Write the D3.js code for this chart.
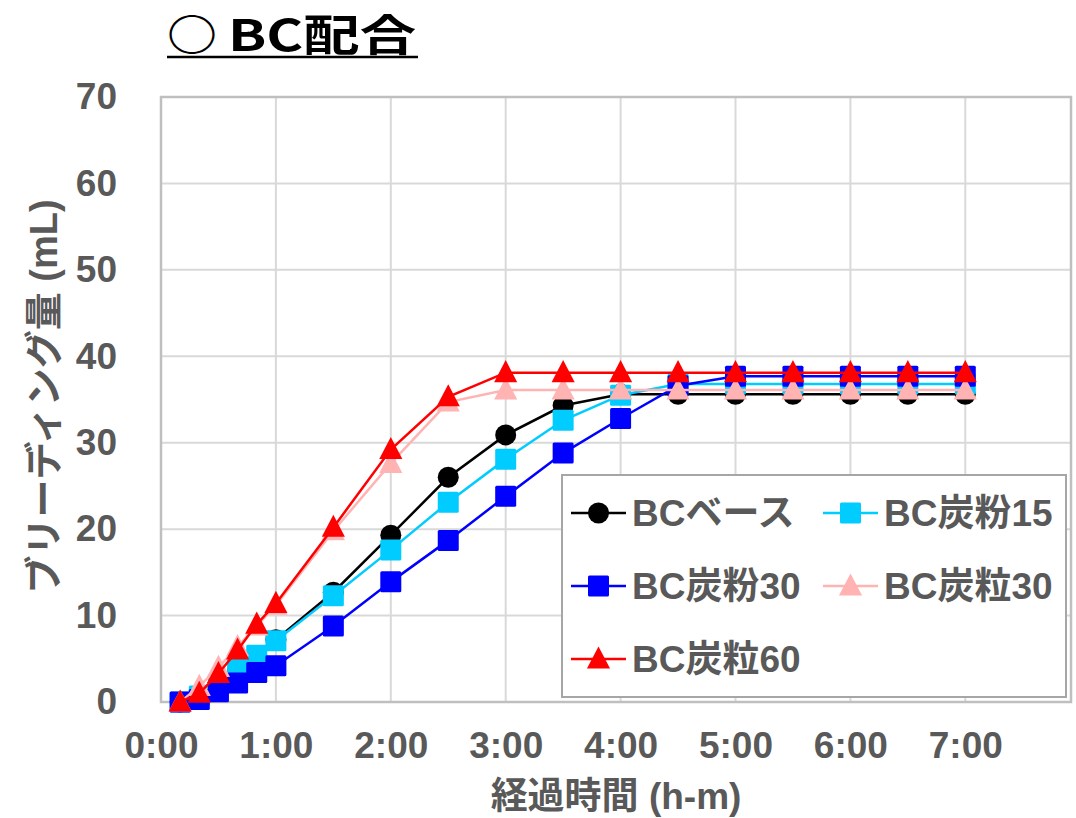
<!DOCTYPE html>
<html><head><meta charset="utf-8">
<script src="https://cdn.jsdelivr.net/npm/d3@7/dist/d3.min.js"></script>
<style>
html,body{margin:0;padding:0;background:#fff;}
svg{display:block;}
</style></head>
<body>
<svg id="chart" width="1076" height="818"></svg>
<script>
const times = ["0:10","0:20","0:30","0:40","0:50","1:00","1:30","2:00","2:30","3:00","3:30","4:00","4:30","5:00","5:30","6:00","6:30","7:00"];
const seriesNames = ["BCベース","BC炭粉15","BC炭粉30","BC炭粒30","BC炭粒60"];
const base   = [0,0.5,1.8,3.6,5.3,7.2,12.7,19.3,26.0,30.9,34.3,35.6,35.6,35.6,35.6,35.6,35.6,35.6];
const fun15  = [0,0.7,2.0,3.8,5.4,7.1,12.3,17.6,23.1,28.1,32.6,35.5,36.8,36.8,36.8,36.8,36.8,36.8];
const fun30  = [0,0.3,1.2,2.2,3.4,4.2,8.8,13.9,18.7,23.8,28.8,32.8,36.6,37.7,37.7,37.7,37.7,37.7];
const ryu30  = [0,1.8,4.0,6.4,8.8,11.2,19.8,27.6,34.7,36.1,36.1,36.1,36.1,36.1,36.1,36.1,36.1,36.1];
const ryu60  = [0,1.0,3.3,6.0,9.0,11.4,20.2,29.2,35.3,38.1,38.1,38.1,38.1,38.1,38.1,38.1,38.1,38.1];
const xTickLabels = ["0:00","1:00","2:00","3:00","4:00","5:00","6:00","7:00"];
const yTicks = [0,10,20,30,40,50,60,70];

const colors = ["#000000","#00CCFF","#0000FF","#FFB3B3","#FF0000"];
const shapes = ["circle","square","square","triangle","triangle"];
const values = [base, fun15, fun30, ryu30, ryu60];

const toMin = s => { const [h,m] = s.split(":").map(Number); return h*60+m; };

const svg = d3.select("#chart");
const L = 161, R = 1071, T = 97, B = 702;
const x = d3.scaleLinear().domain([0, 0.33*24*60]).range([L, R]);
const y = d3.scaleLinear().domain([0, 70]).range([B, T]);
const FONT = "'Liberation Sans', 'Noto Sans CJK JP', sans-serif";
const GREY = "#595959";

// gridlines
svg.append("g").selectAll("line.h").data(yTicks).join("line")
  .attr("x1", L).attr("x2", R).attr("y1", d => y(d)).attr("y2", d => y(d))
  .attr("stroke", "#D9D9D9").attr("stroke-width", 2);
svg.append("g").selectAll("line.v").data(xTickLabels).join("line")
  .attr("x1", d => x(toMin(d))).attr("x2", d => x(toMin(d))).attr("y1", T).attr("y2", B)
  .attr("stroke", "#D9D9D9").attr("stroke-width", 2);
// plot border
svg.append("rect").attr("x", L).attr("y", T).attr("width", R-L).attr("height", B-T)
  .attr("fill", "none").attr("stroke", "#BFBFBF").attr("stroke-width", 2.5);

// axes labels via d3 axes
const yAxis = svg.append("g").attr("transform", `translate(${L},0)`)
  .call(d3.axisLeft(y).tickValues(yTicks).tickSize(0).tickPadding(44));
yAxis.select(".domain").remove();
yAxis.selectAll("text").attr("font-family", FONT).attr("font-weight", "bold")
  .attr("font-size", 37).attr("fill", GREY);

const xAxis = svg.append("g").attr("transform", `translate(0,${B})`)
  .call(d3.axisBottom(x).tickValues(xTickLabels.map(toMin)).tickFormat((d,i) => xTickLabels[i]).tickSize(0).tickPadding(30));
xAxis.select(".domain").remove();
xAxis.selectAll("text").attr("font-family", FONT).attr("font-weight", "bold")
  .attr("font-size", 37).attr("fill", GREY);

// axis titles
svg.append("text").attr("x", 616).attr("y", 809).attr("text-anchor", "middle")
  .attr("font-family", FONT).attr("font-weight", "bold").attr("font-size", 37).attr("fill", GREY)
  .text("経過時間 (h-m)");
svg.append("text").attr("transform", `translate(57,${(T+B)/2 - 3}) rotate(-90)`).attr("text-anchor", "middle")
  .attr("font-family", FONT).attr("font-weight", "bold").attr("font-size", 38).attr("fill", GREY)
  .text("ブリーディング量 (mL)");

// title
svg.append("text").attr("x", 167).attr("y", 51)
  .attr("font-family", "'Noto Sans CJK JP', sans-serif").attr("font-weight", "bold").attr("font-size", 43).attr("fill", "#000")
  .attr("textLength", 50).attr("lengthAdjust", "spacingAndGlyphs")
  .text("○");
svg.append("text").attr("x", 228).attr("y", 51)
  .attr("font-family", "'Noto Sans CJK JP', sans-serif").attr("font-weight", "bold").attr("font-size", 43).attr("fill", "#000")
  .attr("textLength", 188).attr("lengthAdjust", "spacingAndGlyphs")
  .text("BC配合");
svg.append("line").attr("x1", 167).attr("x2", 418).attr("y1", 57).attr("y2", 57)
  .attr("stroke", "#000").attr("stroke-width", 2.7);

function drawMarker(g, shape, cx, cy, color, s) {
  if (shape === "circle") {
    g.append("circle").attr("cx", cx).attr("cy", cy).attr("r", s/2).attr("fill", color);
  } else if (shape === "square") {
    g.append("rect").attr("x", cx - s/2).attr("y", cy - s/2).attr("width", s).attr("height", s).attr("rx", 1.5).attr("fill", color);
  } else {
    const h = s;
    g.append("path").attr("d", `M${cx},${cy - h*0.6}L${cx + s*0.55},${cy + h*0.45}L${cx - s*0.55},${cy + h*0.45}Z`).attr("fill", color);
  }
}

// series
const line = d3.line().x(d => x(d[0])).y(d => y(d[1]));
values.forEach((vals, i) => {
  const pts = times.map((t, j) => [toMin(t), vals[j]]);
  const g = svg.append("g");
  g.append("path").attr("d", line(pts)).attr("fill", "none").attr("stroke", colors[i]).attr("stroke-width", 2.5);
  pts.forEach(p => drawMarker(g, shapes[i], x(p[0]), y(p[1]), colors[i], 21));
});

// legend
const lg = svg.append("g");
lg.append("rect").attr("x", 562).attr("y", 475).attr("width", 504).attr("height", 222)
  .attr("fill", "#fff").attr("stroke", "#A6A6A6").attr("stroke-width", 2);
const legPos = [[571,513],[823,513],[571,586],[823,586],[571,659]];
seriesNames.forEach((name, i) => {
  const [lx, ly] = legPos[i];
  lg.append("line").attr("x1", lx).attr("x2", lx + 55).attr("y1", ly).attr("y2", ly)
    .attr("stroke", colors[i]).attr("stroke-width", 2.5);
  drawMarker(lg, shapes[i], lx + 27.5, ly, colors[i], 21);
  lg.append("text").attr("x", lx + 61).attr("y", ly).attr("dy", "0.36em")
    .attr("font-family", FONT).attr("font-weight", "bold").attr("font-size", 37).attr("fill", GREY)
    .text(name);
});
</script>
</body></html>
